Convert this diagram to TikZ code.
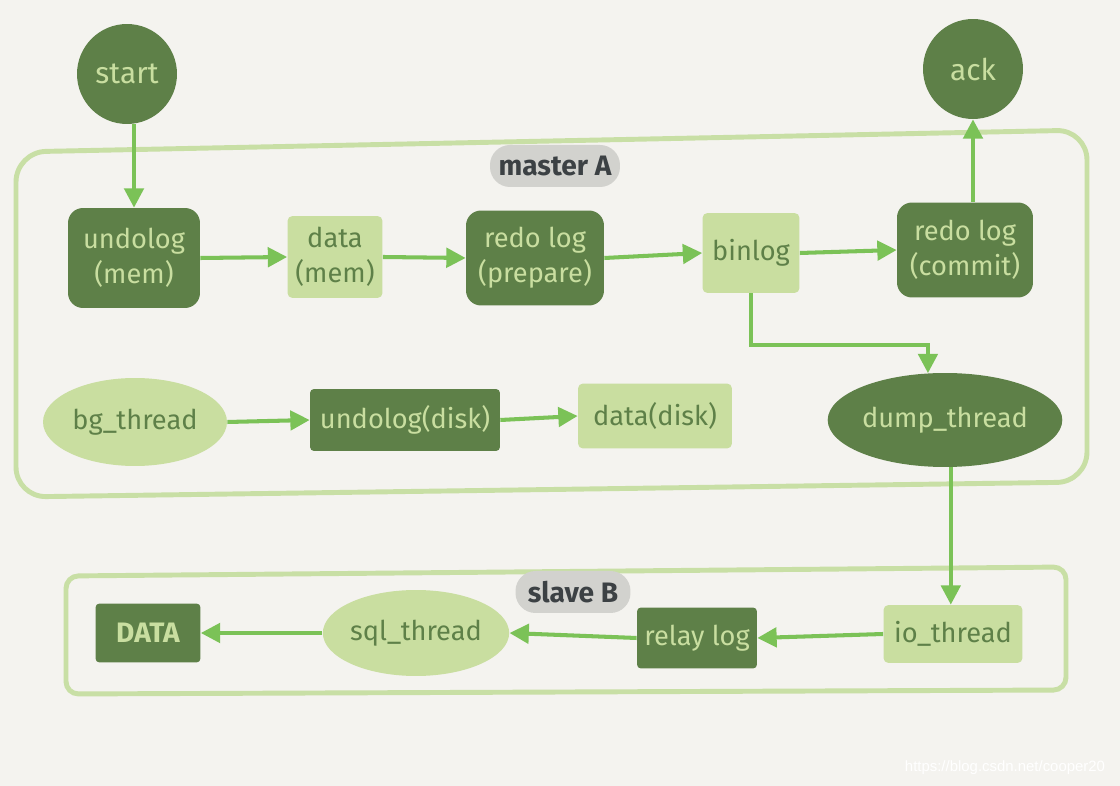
\documentclass[tikz,border=0pt]{standalone}
\usepackage{fontspec}
\setmainfont{Fira Sans}
\newfontfamily\wmfont{Liberation Sans}
\usetikzlibrary{arrows.meta,shapes.geometric}
\definecolor{bgc}{HTML}{F4F3EF}
\definecolor{dk}{HTML}{5E8048}
\definecolor{lt}{HTML}{C9DEA0}
\definecolor{arc}{HTML}{7BC257}
\definecolor{frc}{HTML}{C8DFA5}
\definecolor{tagbg}{HTML}{D2D2CE}
\definecolor{tagfg}{HTML}{3C4144}
\begin{document}
\begin{tikzpicture}[x=0.02cm,y=-0.02cm,
  lbl/.style={font=\fontsize{15.5}{20}\selectfont,align=center,inner sep=0pt},
  dkbox/.style={lbl,rectangle,rounded corners=0.3cm,fill=dk,text=lt},
  ltbox/.style={lbl,rectangle,rounded corners=0.1cm,fill=lt,text=dk},
  dksq/.style={lbl,rectangle,rounded corners=0.08cm,fill=dk,text=lt},
  dkcirc/.style={lbl,circle,fill=dk,text=lt,minimum size=2cm,font=\fontsize{17}{20}\selectfont},
  ltell/.style={lbl,ellipse,fill=lt,text=dk},
  dkell/.style={lbl,ellipse,fill=dk,text=lt},
  tag/.style={lbl,rectangle,rounded corners=0.4cm,fill=tagbg,text=tagfg,minimum height=0.84cm,font=\fontsize{16}{20}\selectfont\bfseries},
  frame/.style={draw=frc,line width=2.8pt,rounded corners=0.6cm},
  arr/.style={draw=arc,line width=2.3pt,-{Triangle[length=11pt,width=11pt]}}]
\fill[bgc] (0,0) rectangle (1120,786);
\useasboundingbox (0,0) rectangle (1120,786);
% frames
\draw[frame] (16,152) -- (1087,130) -- (1087,482) -- (16,497) -- cycle;
\draw[frame,rounded corners=0.25cm] (66,576) -- (1066,567) -- (1066,690) -- (66,694) -- cycle;
% nodes
\node[dkcirc] (start) at (127,74) {start};
\node[dkcirc] (ack) at (973,69) {ack};
\node[tag,minimum width=2.6cm] (mtag) at (555,166) {master A};
\node[dkbox,minimum width=2.64cm,minimum height=2.0cm] (undomem) at (134,258) {undolog\\(mem)};
\node[ltbox,minimum width=1.9cm,minimum height=1.64cm] (datamem) at (335,257) {data\\(mem)};
\node[dkbox,minimum width=2.76cm,minimum height=1.9cm] (redop) at (535,258) {redo log\\(prepare)};
\node[ltbox,minimum width=1.94cm,minimum height=1.6cm] (binlog) at (751,253) {binlog};
\node[dkbox,minimum width=2.72cm,minimum height=1.9cm] (redoc) at (965,250) {redo log\\(commit)};
\node[ltell,minimum width=3.68cm,minimum height=1.76cm] (bg) at (135,422) {bg\_thread};
\node[dksq,minimum width=3.8cm,minimum height=1.24cm] (undodisk) at (405,420) {undolog(disk)};
\node[ltbox,minimum width=3.08cm,minimum height=1.3cm] (datadisk) at (655,416) {data(disk)};
\node[dkell,minimum width=4.48cm,minimum height=1.88cm] (dump) at (945,420) {dump\_thread};
\node[tag,minimum width=2.3cm] (stag) at (573,592) {slave B};
\node[dksq,minimum width=2.1cm,minimum height=1.18cm,font=\fontsize{16}{20}\selectfont\bfseries] (DATA) at (148,633) {DATA};
\node[ltell,minimum width=3.52cm,minimum height=1.72cm] (sql) at (416,633) {sql\_thread};
\node[dksq,minimum width=2.4cm,minimum height=1.22cm] (relay) at (697,638) {relay log};
\node[ltbox,minimum width=2.78cm,minimum height=1.16cm] (io) at (953,634) {io\_thread};
% connectors
\draw[arr] (start.south -| undomem.north) -- (undomem.north);
\draw[arr] (undomem.east) -- (datamem.west);
\draw[arr] (datamem.east) -- (redop.west);
\draw[arr] (redop.east) -- (binlog.west);
\draw[arr] (binlog.east) -- (redoc.west);
\draw[arr] (ack.south |- redoc.north) -- (ack.south);
\draw[arr] (binlog.south) -- ++(0,52) -| (dump.110);
\draw[arr] (bg.east) -- (undodisk.west);
\draw[arr] (undodisk.east) -- (datadisk.west);
\draw[arr] (dump.-83) -- (dump.-83 |- io.north);
\draw[arr] (io.west) -- (relay.east);
\draw[arr] (relay.west) -- (sql.east);
\draw[arr] (sql.west) -- (DATA.east);
% watermark
\node[inner sep=0pt,text=white,font=\wmfont\fontsize{8.5}{10}\selectfont] (wm) at (1005,768) {https://blog.csdn.net/cooper20};
\end{tikzpicture}
\end{document}
